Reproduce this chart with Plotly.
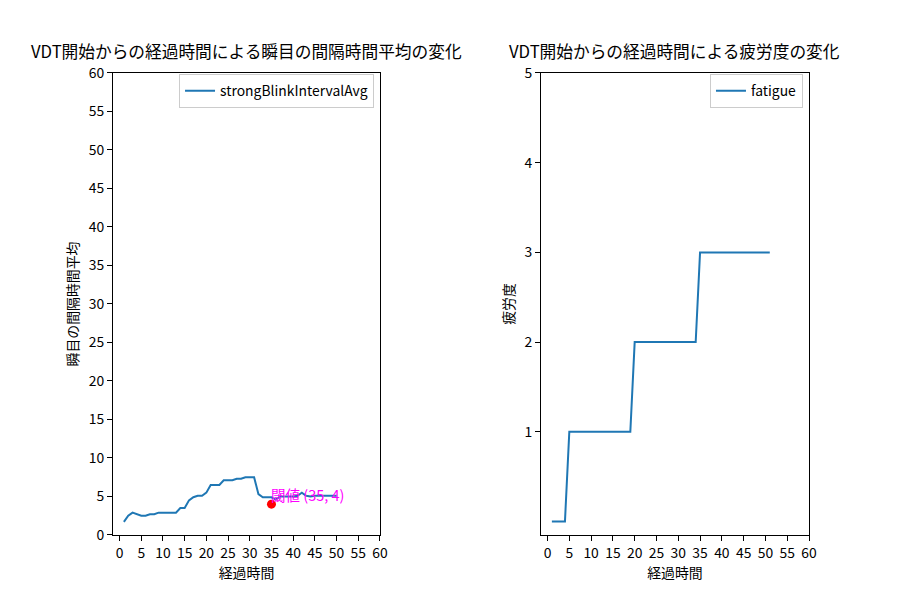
import plotly.graph_objects as go
from plotly.subplots import make_subplots

# 経過時間 (分)
minutes_blink = list(range(1, 51))
blink_interval_avg = [1.7, 2.5, 2.9, 2.7, 2.5, 2.5, 2.7, 2.7, 2.9, 2.9,
                      2.9, 2.9, 2.9, 3.5, 3.5, 4.5, 4.9, 5.1, 5.1, 5.5,
                      6.5, 6.5, 6.5, 7.1, 7.1, 7.1, 7.3, 7.3, 7.5, 7.5,
                      7.5, 5.3, 4.9, 4.9, 4.9, 4.6, 5.0, 5.0, 5.0, 5.0,
                      5.1, 5.5, 5.1, 5.0, 5.1, 5.1, 5.1, 5.1, 5.1, 5.1]

minutes_fatigue = list(range(1, 52))
fatigue = [0] * 4 + [1] * 15 + [2] * 15 + [3] * 17

threshold_x = [35]
threshold_y = [4]
threshold_label = "閾値 (35, 4)"

x_ticks = list(range(0, 61, 5))
left_y_ticks = list(range(0, 61, 5))
right_y_ticks = [1, 2, 3, 4, 5]

FONT = "Noto Sans CJK JP, DejaVu Sans, sans-serif"
BLUE = "#1f77b4"

fig = make_subplots(rows=1, cols=2)

fig.add_trace(go.Scatter(x=minutes_blink, y=blink_interval_avg, mode="lines",
                         name="strongBlinkIntervalAvg",
                         line=dict(color=BLUE, width=2), legend="legend"),
              row=1, col=1)
fig.add_trace(go.Scatter(x=threshold_x, y=threshold_y, mode="markers",
                         marker=dict(color="red", size=9), showlegend=False),
              row=1, col=1)
fig.add_trace(go.Scatter(x=minutes_fatigue, y=fatigue, mode="lines",
                         name="fatigue",
                         line=dict(color=BLUE, width=2), legend="legend2"),
              row=1, col=2)

fig.add_annotation(x=threshold_x[0], y=threshold_y[0], xref="x", yref="y",
                   text=threshold_label, showarrow=False,
                   xanchor="left", yanchor="bottom", xshift=-2, yshift=-3,
                   font=dict(color="magenta", size=14.5, family=FONT))

axis_common = dict(showline=True, linecolor="black", linewidth=1, mirror=True,
                   ticks="outside", ticklen=5, tickcolor="black",
                   showgrid=False, zeroline=False, automargin=False,
                   tickfont=dict(size=13.9, color="black", family=FONT))

# the page adds an 8px body margin, so the domains are shifted to compensate
dom_left = [0.1167, 0.4133]
dom_right = [0.5922, 0.89]
dom_y = [0.1217, 0.8917]

fig.update_layout(
    width=900, height=600,
    margin=dict(l=0, r=0, t=0, b=0),
    paper_bgcolor="white", plot_bgcolor="white",
    font=dict(family=FONT, color="black"),
    xaxis=dict(domain=dom_left, range=[-1.5, 60], tickvals=x_ticks,
               title=dict(text="経過時間", font=dict(size=13.9), standoff=0),
               **axis_common),
    yaxis=dict(domain=dom_y, range=[0, 60], tickvals=left_y_ticks,
               title=dict(text="瞬目の間隔時間平均", font=dict(size=13.9), standoff=6),
               **axis_common),
    xaxis2=dict(domain=dom_right, range=[-1.5, 60], tickvals=x_ticks,
                title=dict(text="経過時間", font=dict(size=13.9), standoff=0),
                **axis_common),
    yaxis2=dict(domain=dom_y, range=[-0.15, 5], tickvals=right_y_ticks,
                title=dict(text="疲労度", font=dict(size=13.9), standoff=6),
                **axis_common),
    legend=dict(x=0.4067, y=0.8895, xanchor="right", yanchor="top",
                bordercolor="#cccccc", borderwidth=1, bgcolor="white",
                font=dict(size=13.9, family=FONT)),
    legend2=dict(x=0.8833, y=0.8895, xanchor="right", yanchor="top",
                 bordercolor="#cccccc", borderwidth=1, bgcolor="white",
                 font=dict(size=13.9, family=FONT)),
)

titles = ["VDT開始からの経過時間による瞬目の間隔時間平均の変化",
          "VDT開始からの経過時間による疲労度の変化"]
for dom, text in zip([dom_left, dom_right], titles):
    fig.add_annotation(x=(dom[0] + dom[1]) / 2, y=0.907, xref="paper", yref="paper",
                       text=text, showarrow=False, xanchor="center", yanchor="bottom",
                       borderpad=0,
                       font=dict(size=16.7, family=FONT, color="black"))

fig.write_html("out.html")
